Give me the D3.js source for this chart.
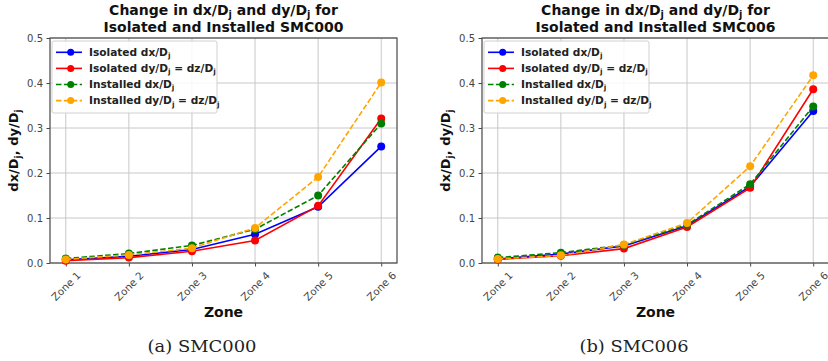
<!DOCTYPE html>
<html><head><meta charset="utf-8">
<script src="https://cdn.jsdelivr.net/npm/d3@7"></script>
<style>
body{margin:0;background:#fff;}
svg{display:block;}
</style></head>
<body>
<script>
const zones = ["Zone 1","Zone 2","Zone 3","Zone 4","Zone 5","Zone 6"];
const yTicks = [0.0,0.1,0.2,0.3,0.4,0.5];
const seriesNames = ["Isolated dx/D","Isolated dy/D","Installed dx/D","Installed dy/D"];
const seriesColors = ["#0000ff","#ff0000","#008000","#ffa500"];
const seriesDashed = [false,false,true,true];

// SMC000
const smc000IsoDx  = [0.007,0.015,0.030,0.064,0.125,0.259];
const smc000IsoDy  = [0.005,0.012,0.026,0.050,0.127,0.321];
const smc000InsDx  = [0.010,0.021,0.039,0.075,0.150,0.310];
const smc000InsDy  = [0.008,0.018,0.033,0.078,0.191,0.401];
// SMC006
const smc006IsoDx  = [0.009,0.020,0.038,0.083,0.170,0.338];
const smc006IsoDy  = [0.008,0.016,0.032,0.080,0.167,0.386];
const smc006InsDx  = [0.012,0.023,0.040,0.085,0.175,0.348];
const smc006InsDy  = [0.009,0.017,0.041,0.089,0.215,0.417];

const panels = [
  {name:"SMC000", caption:"(a) SMC000", series:[smc000IsoDx,smc000IsoDy,smc000InsDx,smc000InsDy], left:50, right:397, capX:202},
  {name:"SMC006", caption:"(b) SMC006", series:[smc006IsoDx,smc006IsoDy,smc006InsDx,smc006InsDy], left:482, right:829, capX:634}
];

const W=828,H=361, plotTop=38, plotBottom=263;
const svg = d3.select("body").append("svg").attr("width",W).attr("height",H);
const sans = "'DejaVu Sans', sans-serif";

function subText(sel, parts, fs){
  let lowered = false;
  parts.forEach(p=>{
    const t = sel.append("tspan").text(p[0]);
    if(p[1]){ t.attr("font-size", fs*0.7).attr("dy", fs*0.22); lowered = true; }
    else if(lowered){ t.attr("dy", -fs*0.22); lowered = false; }
  });
}

panels.forEach(p=>{
  const g = svg.append("g");
  const x = d3.scaleLinear().domain([-0.25,5.25]).range([p.left,p.right]);
  const y = d3.scaleLinear().domain([0,0.5]).range([plotBottom,plotTop]);
  const cx = (p.left+p.right)/2;

  // grid
  g.append("g").selectAll("line").data(zones).join("line")
    .attr("x1",(d,i)=>x(i)).attr("x2",(d,i)=>x(i)).attr("y1",plotTop).attr("y2",plotBottom)
    .attr("stroke","#c8c8c8").attr("stroke-width",1);
  g.append("g").selectAll("line").data(yTicks).join("line")
    .attr("x1",p.left).attr("x2",p.right).attr("y1",d=>y(d)).attr("y2",d=>y(d))
    .attr("stroke","#c8c8c8").attr("stroke-width",1);

  // axes
  const yAxis = d3.axisLeft(y).tickValues(yTicks).tickFormat(d3.format(".1f")).tickSize(3.5).tickPadding(3.5);
  const ya = g.append("g").attr("transform",`translate(${p.left},0)`).call(yAxis);
  ya.select(".domain").remove();
  ya.selectAll("line").attr("stroke","#444");
  ya.selectAll("text").attr("font-family",sans).attr("font-size",10).attr("fill","#444");

  const xAxis = d3.axisBottom(d3.scalePoint().domain(zones).range([x(0),x(5)])).tickSize(3.5).tickFormat("");
  const xa = g.append("g").attr("transform",`translate(0,${plotBottom})`).call(xAxis);
  xa.select(".domain").remove();
  xa.selectAll("line").attr("stroke","#444");
  g.append("g").selectAll("text").data(zones).join("text")
    .attr("transform",(d,i)=>`translate(${x(i)},286) rotate(-45)`)
    .attr("text-anchor","middle").attr("dominant-baseline","central")
    .attr("font-family",sans).attr("font-size",10.3).attr("fill","#444").text(d=>d);

  // frame
  g.append("rect").attr("x",p.left).attr("y",plotTop).attr("width",p.right-p.left).attr("height",plotBottom-plotTop)
    .attr("fill","none").attr("stroke","#555").attr("stroke-width",1.3);

  // series
  const line = d3.line().x((d,i)=>x(i)).y(d=>y(d));
  p.series.forEach((s,k)=>{
    g.append("path").datum(s).attr("d",line).attr("fill","none")
      .attr("stroke",seriesColors[k]).attr("stroke-width",1.6)
      .attr("stroke-dasharray",seriesDashed[k]?"5.5,2.4":null);
    g.append("g").selectAll("circle").data(s).join("circle")
      .attr("cx",(d,i)=>x(i)).attr("cy",d=>y(d)).attr("r",4).attr("fill",seriesColors[k]);
  });

  // legend
  const lx = p.left+2, ly = plotTop+3;
  const lg = g.append("g");
  lg.append("rect").attr("x",lx).attr("y",ly).attr("width",165).attr("height",72).attr("rx",2)
    .attr("fill","#fff").attr("fill-opacity",0.85).attr("stroke","#d0d0d0");
  const legendParts = [
    [["Isolated dx/D",0],["j",1]],
    [["Isolated dy/D",0],["j",1],[" = dz/D",0],["j",1]],
    [["Installed dx/D",0],["j",1]],
    [["Installed dy/D",0],["j",1],[" = dz/D",0],["j",1]]
  ];
  seriesNames.forEach((n,k)=>{
    const ry = ly+11.3+k*16.1;
    lg.append("line").attr("x1",lx+4).attr("x2",lx+30).attr("y1",ry).attr("y2",ry)
      .attr("stroke",seriesColors[k]).attr("stroke-width",1.6)
      .attr("stroke-dasharray",seriesDashed[k]?"5.5,2.4":null);
    lg.append("circle").attr("cx",lx+18.7).attr("cy",ry).attr("r",3.5).attr("fill",seriesColors[k]);
    const t = lg.append("text").attr("x",lx+37).attr("y",ry+3.6).attr("font-family",sans)
      .attr("font-size",10.6).attr("font-weight","bold").attr("fill","#222");
    subText(t, legendParts[k], 10.6);
  });

  // title
  const t1 = g.append("text").attr("x",cx).attr("y",15).attr("text-anchor","middle")
    .attr("font-family",sans).attr("font-size",14).attr("font-weight","bold").attr("fill","#111");
  subText(t1, [["Change in dx/D",0],["j",1],[" and dy/D",0],["j",1],[" for",0]], 14);
  g.append("text").attr("x",cx).attr("y",32).attr("text-anchor","middle")
    .attr("font-family",sans).attr("font-size",14).attr("font-weight","bold").attr("fill","#111")
    .text("Isolated and Installed "+p.name);

  // y label
  const yl = g.append("text").attr("transform",`translate(${p.left-32},${(plotTop+plotBottom)/2}) rotate(-90)`)
    .attr("text-anchor","middle").attr("font-family",sans).attr("font-size",13).attr("font-weight","bold").attr("fill","#111");
  subText(yl, [["dx/D",0],["j",1],[", dy/D",0],["j",1]], 13);

  // x label
  g.append("text").attr("x",cx).attr("y",317).attr("text-anchor","middle")
    .attr("font-family",sans).attr("font-size",14).attr("font-weight","bold").attr("fill","#111").text("Zone");

  // caption
  g.append("text").attr("x",p.capX).attr("y",352).attr("text-anchor","middle")
    .attr("font-family","'DejaVu Serif', serif").attr("font-size",17).attr("fill","#222")
    .attr("textLength",109).attr("lengthAdjust","spacingAndGlyphs").text(p.caption);
});
</script>
</body></html>
